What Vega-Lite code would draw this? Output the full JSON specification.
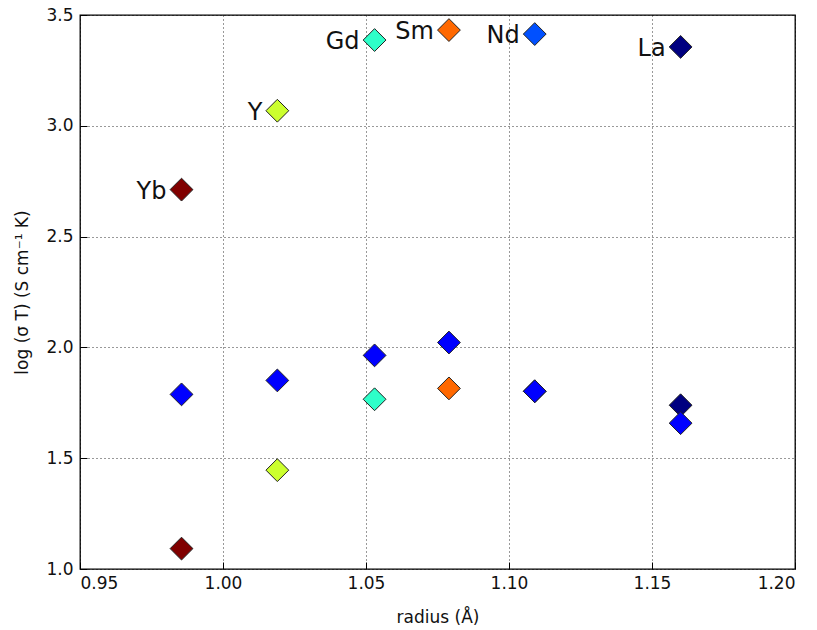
{
  "$schema": "https://vega.github.io/schema/vega-lite/v6.json",
  "width": 715,
  "height": 554,
  "autosize": {"type": "none"},
  "padding": {"left": 80, "top": 15, "right": 22, "bottom": 61},
  "background": "white",
  "config": {
    "view": {"stroke": "black", "strokeWidth": 1.3},
    "font": "DejaVu Sans",
    "axis": {
      "labelFont": "DejaVu Sans",
      "titleFont": "DejaVu Sans",
      "labelFontSize": 17,
      "titleFontSize": 17,
      "titleFontWeight": "normal",
      "labelColor": "#111111",
      "titleColor": "#111111",
      "domain": false,
      "tickColor": "black",
      "tickSize": -7,
      "grid": true,
      "gridColor": "black",
      "gridDash": [1, 3],
      "gridOpacity": 0.8,
      "gridWidth": 1
    }
  },
  "data": {
    "values": [
      {"radius": 0.9855, "logsT": 2.712, "ion": "Yb", "lab": "Yb"},
      {"radius": 0.9855, "logsT": 1.092, "ion": "Yb", "lab": null},
      {"radius": 1.019, "logsT": 3.068, "ion": "Y", "lab": "Y"},
      {"radius": 1.019, "logsT": 1.446, "ion": "Y", "lab": null},
      {"radius": 1.053, "logsT": 3.387, "ion": "Gd", "lab": "Gd"},
      {"radius": 1.053, "logsT": 1.766, "ion": "Gd", "lab": null},
      {"radius": 1.079, "logsT": 3.432, "ion": "Sm", "lab": "Sm"},
      {"radius": 1.079, "logsT": 1.815, "ion": "Sm", "lab": null},
      {"radius": 1.109, "logsT": 3.414, "ion": "Nd", "lab": "Nd"},
      {"radius": 1.109, "logsT": 1.802, "ion": "Nd", "lab": null},
      {"radius": 1.16, "logsT": 3.356, "ion": "La", "lab": "La"},
      {"radius": 1.16, "logsT": 1.739, "ion": "La", "lab": null},
      {"radius": 0.9855, "logsT": 1.788, "ion": "ref", "lab": null},
      {"radius": 1.019, "logsT": 1.851, "ion": "ref", "lab": null},
      {"radius": 1.053, "logsT": 1.964, "ion": "ref", "lab": null},
      {"radius": 1.079, "logsT": 2.022, "ion": "ref", "lab": null},
      {"radius": 1.109, "logsT": 1.802, "ion": "ref", "lab": null},
      {"radius": 1.16, "logsT": 1.658, "ion": "ref", "lab": null}
    ]
  },
  "encoding": {
    "x": {
      "field": "radius",
      "type": "quantitative",
      "scale": {"domain": [0.95, 1.2], "nice": false, "zero": false},
      "axis": {"title": "radius (Å)", "values": [0.95, 1.0, 1.05, 1.1, 1.15, 1.2], "format": ".2f", "labelPadding": 13, "titlePadding": 18}
    },
    "y": {
      "field": "logsT",
      "type": "quantitative",
      "scale": {"domain": [1.0, 3.5], "nice": false, "zero": false},
      "axis": {"title": "log (σ T) (S cm⁻¹ K)", "values": [1.0, 1.5, 2.0, 2.5, 3.0, 3.5], "format": ".1f", "labelPadding": 14, "titlePadding": 14}
    }
  },
  "layer": [
    {
      "mark": {"type": "point", "shape": "diamond", "filled": true, "size": 520, "stroke": "#222222", "strokeWidth": 1, "opacity": 1},
      "encoding": {
        "color": {
          "field": "ion",
          "type": "nominal",
          "scale": {
            "domain": ["Yb", "Y", "Gd", "Sm", "Nd", "La", "ref"],
            "range": ["#800000", "#ccff2e", "#2effc9", "#ff6800", "#0050ff", "#000080", "#0000ff"]
          },
          "legend": null
        }
      }
    },
    {
      "transform": [{"filter": "datum.lab != null"}],
      "mark": {"type": "text", "align": "right", "baseline": "middle", "dx": -15, "dy": 2, "fontSize": 24, "font": "DejaVu Sans", "color": "#111111"},
      "encoding": {"text": {"field": "lab"}}
    }
  ]
}
